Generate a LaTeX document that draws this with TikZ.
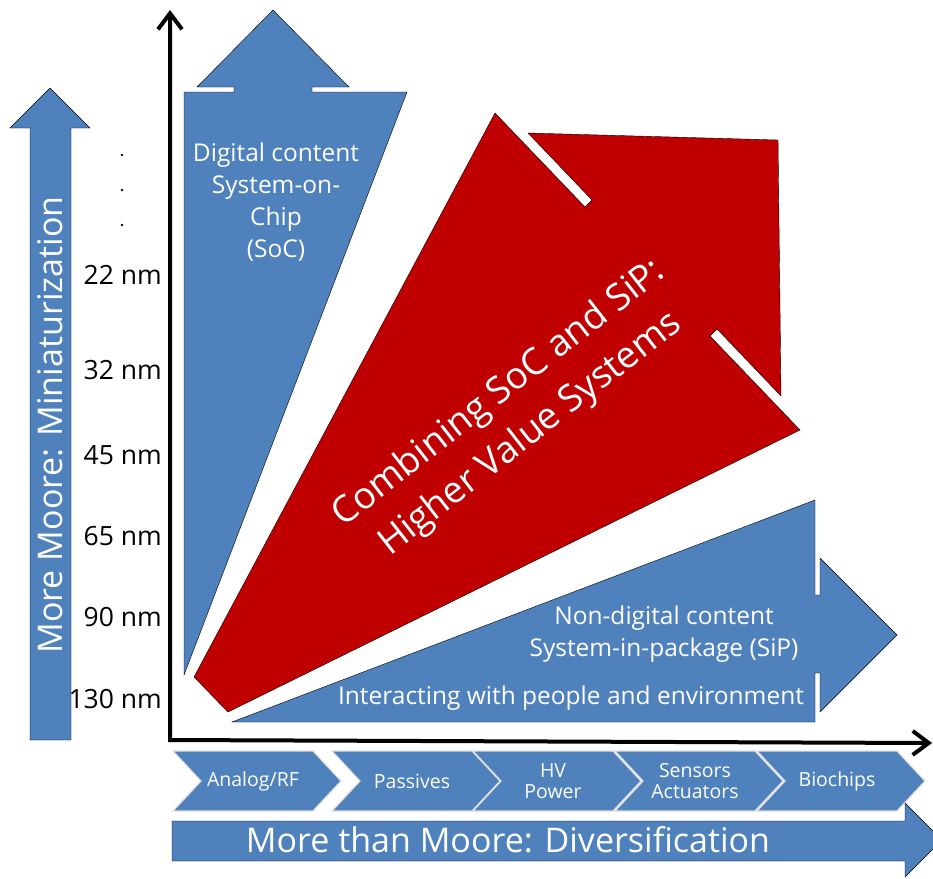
\documentclass[tikz,border=0pt]{standalone}
\usepackage{fontspec}
\setmainfont{Open Sans}
\usetikzlibrary{arrows.meta}
\definecolor{mooreblue}{HTML}{4F81BD}
\definecolor{sysred}{HTML}{C00000}

\begin{document}
\begin{tikzpicture}[x=1pt,y=-1pt,
    >={Straight Barb[length=16pt,width=24pt]},
    bluearrow/.style={fill=mooreblue},
    redarrow/.style={fill=sysred},
    axisline/.style={<->,line width=4pt,line join=miter},
    whitetext/.style={text=white,align=center,inner sep=0pt},
    nmlabel/.style={anchor=east,inner sep=0pt,font=\fontsize{26.5}{30}\selectfont},
    bigtext/.style={whitetext,font=\fontsize{34}{40}\selectfont},
    chevbox/.style={fill=mooreblue,draw=black!12,line width=1.2pt},
    chevtext/.style={whitetext,font=\fontsize{19.5}{21}\selectfont}]
  \useasboundingbox (0,0) rectangle (933,878);
  \clip (0,0) rectangle (933,878);

  % More Moore
  \draw[bluearrow] (30,740) -- (30,128) -- (10,128) -- (50,88) -- (90,128) -- (71,128) -- (71,740) -- cycle;
  \node[bigtext,rotate=90] (miniature) at (50,425) {More Moore: Miniaturization};

  % nodes
  \foreach \yy/\lbl in {275/22, 370/32, 455/45, 536/65, 617/90, 699/130}
    \node[nmlabel] (nm\lbl) at (162,\yy) {\lbl{} nm};
  \foreach \yy in {155,190,225}
    \fill (122,\yy) circle (1.3);

  % SoC
  \draw[bluearrow] (184,675) -- (184,92) -- (234,92) -- (234,87) -- (197,87) -- (273,10)
    -- (349,87) -- (312,87) -- (312,92) -- (407,92) -- cycle;
  \node[whitetext,font=\fontsize{24.5}{32}\selectfont] (soc) at (276,202)
    {Digital content\\System-on-\\Chip\\(SoC)};

  % SoC + SiP
  \draw[redarrow] (194,677) -- (495,113) -- (585,207) -- (592,200) -- (528,133) -- (778,140)
    -- (781,396) -- (717,329) -- (710,336) -- (800,430) -- (228,712) -- cycle;
  \node[whitetext,rotate=38,font=\fontsize{37}{51}\selectfont] (combine) at (515,414)
    {Combining SoC and SiP:\\Higher Value Systems};

  % SiP
  \draw[bluearrow] (232,722) -- (815,500) -- (815,595) -- (820,595) -- (820,558) -- (897,635)
    -- (820,712) -- (820,673) -- (815,673) -- (815,722) -- cycle;
  \node[whitetext,font=\fontsize{24.5}{32}\selectfont] (sip) at (664,634)
    {Non-digital content\\System-in-package (SiP)};
  \node[whitetext,font=\fontsize{24.5}{32}\selectfont] (interact) at (571,698)
    {Interacting with people and environment};

  % axes
  \coordinate (origin) at (170,740);
  \draw[axisline] (170,10) -- (origin) -- (932,743);

  % More than Moore
  \foreach \xl/\lbl [count=\i] in {173/{Analog/RF}, 332/Passives, 473/{HV\\Power},
      615/{Sensors\\Actuators}, 757/Biochips}
  {
    \draw[chevbox] (\xl,751) -- ++(140,0) -- ++(28,30) -- ++(-28,30) -- ++(-140,0) -- ++(28,-30) -- cycle;
    \node[chevtext] (chev\i) at (\xl+80,781) {\lbl};
  }
  \draw[bluearrow] (172,821) -- (905,821) -- (905,803) -- (942,840) -- (905,877) -- (905,861)
    -- (172,861) -- cycle;
  \node[bigtext] (diversify) at (508,840) {More than Moore: Diversification};
\end{tikzpicture}
\end{document}
